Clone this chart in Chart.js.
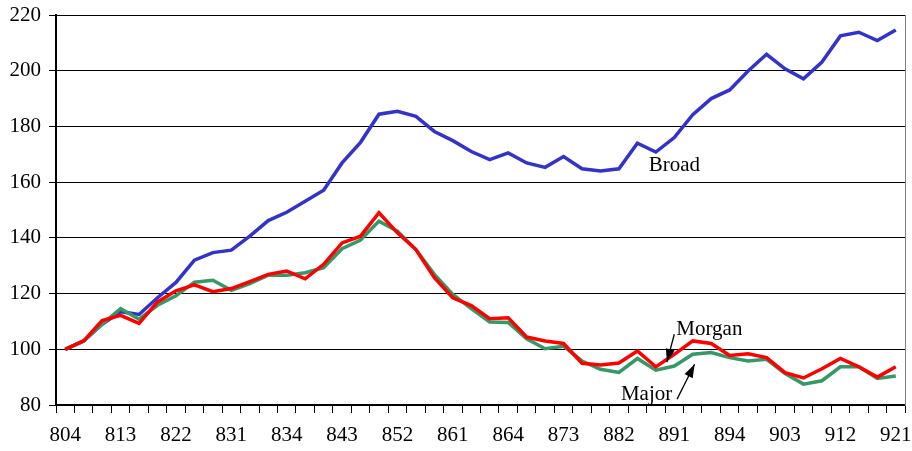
<!DOCTYPE html>
<html>
<head>
<meta charset="utf-8">
<script src="https://cdn.jsdelivr.net/npm/chart.js@4.4.0/dist/chart.umd.min.js"></script>
<style>
  html, body { margin: 0; padding: 0; background: #fff; }
  #wrap { width: 912px; height: 451px; }
</style>
</head>
<body>
<div id="wrap"><canvas id="chart" width="912" height="451"></canvas></div>
<script>
// quarters, yyq (80 Q4 ... 92 Q1)
const quarters = [
  '804','811','812','813','814','821','822','823','824','831','832','833','834','841','842','843',
  '844','851','852','853','854','861','862','863','864','871','872','873','874','881','882','883',
  '884','891','892','893','894','901','902','903','904','911','912','913','914','921'
];
const broad = [
  100, 103, 109, 113.5, 112.5, 118.5, 124, 132, 134.7, 135.6, 140.6, 146.2, 149.2, 153.1, 157.1, 166.9,
  174.3, 184.4, 185.4, 183.6, 178.2, 174.9, 171, 168.1, 170.5, 166.9, 165.3, 169.2, 164.8, 164, 164.8, 174,
  170.8, 176, 184.2, 190, 193.1, 199.9, 205.9, 200.7, 197.1, 203.1, 212.5, 213.8, 210.8, 214.6
];
const morgan = [
  100, 103, 110.3, 112.2, 109.3, 117, 121, 123.1, 120.7, 121.8, 124.3, 126.9, 128.1, 125.3, 130.5, 138.2,
  140.6, 149, 141.8, 135.8, 125.7, 118.5, 115.7, 111, 111.3, 104.4, 103, 102.1, 95, 94.4, 95.1, 99.4,
  93.7, 98.2, 103, 102.1, 97.8, 98.4, 97, 91.6, 89.7, 93, 96.7, 93.7, 90, 93.7
];
const major = [
  100, 103, 109, 114.6, 110.8, 115.8, 119.2, 124.1, 124.8, 121.2, 123.6, 126.6, 126.6, 127.5, 129.3, 136.1,
  139.2, 146, 142.4, 135.8, 126.9, 119.7, 114.6, 109.8, 109.6, 103.8, 100.2, 101.1, 95.8, 92.8, 91.7, 96.7,
  92.5, 94, 98.2, 98.8, 97, 95.8, 96.4, 91.3, 87.5, 88.7, 93.7, 93.7, 89.5, 90.4
];

// text labels placed in data units: [text, index, value]
const labels = [
  ['Broad', 33.0, 165.9],
  ['Morgan', 34.9, 107.2],
  ['Major', 31.5, 83.9]
];
// arrows in data units: [fromIndex, fromValue, toIndex, toValue]
const arrows = [
  [33.0, 105.4, 32.6, 95.4],
  [33.15, 82.1, 34.1, 94.6]
];

const serif = '"Liberation Serif", "Times New Roman", serif';

const notes = {
  id: 'notes',
  afterDatasetsDraw(chart) {
    const ctx = chart.ctx;
    const x = chart.scales.x, y = chart.scales.y;
    ctx.save();
    ctx.fillStyle = '#000';
    ctx.font = '21px ' + serif;
    ctx.textAlign = 'center';
    ctx.textBaseline = 'middle';
    labels.forEach(l => ctx.fillText(l[0], x.getPixelForValue(l[1]), y.getPixelForValue(l[2])));
    ctx.strokeStyle = '#000';
    ctx.lineWidth = 1.3;
    arrows.forEach(a => {
      const x1 = x.getPixelForValue(a[0]), y1 = y.getPixelForValue(a[1]);
      const x2 = x.getPixelForValue(a[2]), y2 = y.getPixelForValue(a[3]);
      const ang = Math.atan2(y2 - y1, x2 - x1);
      ctx.beginPath();
      ctx.moveTo(x1, y1);
      ctx.lineTo(x2, y2);
      ctx.stroke();
      ctx.beginPath();
      ctx.moveTo(x2, y2);
      ctx.lineTo(x2 - 14 * Math.cos(ang - 0.33), y2 - 14 * Math.sin(ang - 0.33));
      ctx.lineTo(x2 - 14 * Math.cos(ang + 0.33), y2 - 14 * Math.sin(ang + 0.33));
      ctx.closePath();
      ctx.fill();
    });
    ctx.restore();
  }
};

const bg = {
  id: 'bg',
  beforeDraw(chart) {
    const ctx = chart.ctx;
    ctx.save();
    ctx.fillStyle = '#fff';
    ctx.fillRect(0, 0, chart.width, chart.height);
    ctx.restore();
  }
};

function line(label, data, color) {
  return {
    label: label,
    data: data,
    borderColor: color,
    backgroundColor: color,
    borderWidth: 3.5,
    pointRadius: 0,
    tension: 0,
    fill: false
  };
}

// drop the automatic label overflow padding so the plot box is set by layout.padding
function noPad(s) {
  s.paddingTop = 0;
  s.paddingBottom = 0;
  s.paddingLeft = 0;
  s.paddingRight = 0;
}

new Chart(document.getElementById('chart'), {
  type: 'line',
  data: {
    labels: quarters,
    datasets: [
      line('Morgan', morgan, '#ff0000'),
      line('Major', major, '#339966'),
      line('Broad', broad, '#3333cc')
    ]
  },
  options: {
    responsive: false,
    animation: false,
    layout: { padding: { top: 15, right: 7, left: 0, bottom: 0 } },
    plugins: { legend: { display: false }, tooltip: { enabled: false } },
    scales: {
      x: {
        offset: true,
        grid: { offset: true, drawOnChartArea: false, drawTicks: true, tickLength: 8, color: '#000' },
        border: { color: '#000', width: 2 },
        ticks: {
          autoSkip: false,
          maxRotation: 0,
          padding: 10,
          color: '#000',
          font: { family: serif, size: 21 },
          callback: (v, i) => (i % 3 === 0 ? quarters[i] : '')
        },
        afterFit: s => { s.height = 46; noPad(s); }
      },
      y: {
        min: 80,
        max: 220,
        ticks: { stepSize: 20, padding: 8, color: '#000', font: { family: serif, size: 21 } },
        grid: { color: '#000', lineWidth: 1, tickLength: 7 },
        border: { color: '#000', width: 2 },
        afterFit: s => { s.width = 56; noPad(s); }
      },
      y2: {
        position: 'right',
        min: 80,
        max: 220,
        ticks: { display: false },
        grid: { drawOnChartArea: false, drawTicks: false },
        border: { color: '#808080', width: 1 },
        afterFit: s => { s.width = 0; noPad(s); }
      }
    }
  },
  plugins: [bg, notes]
});
</script>
</body>
</html>
